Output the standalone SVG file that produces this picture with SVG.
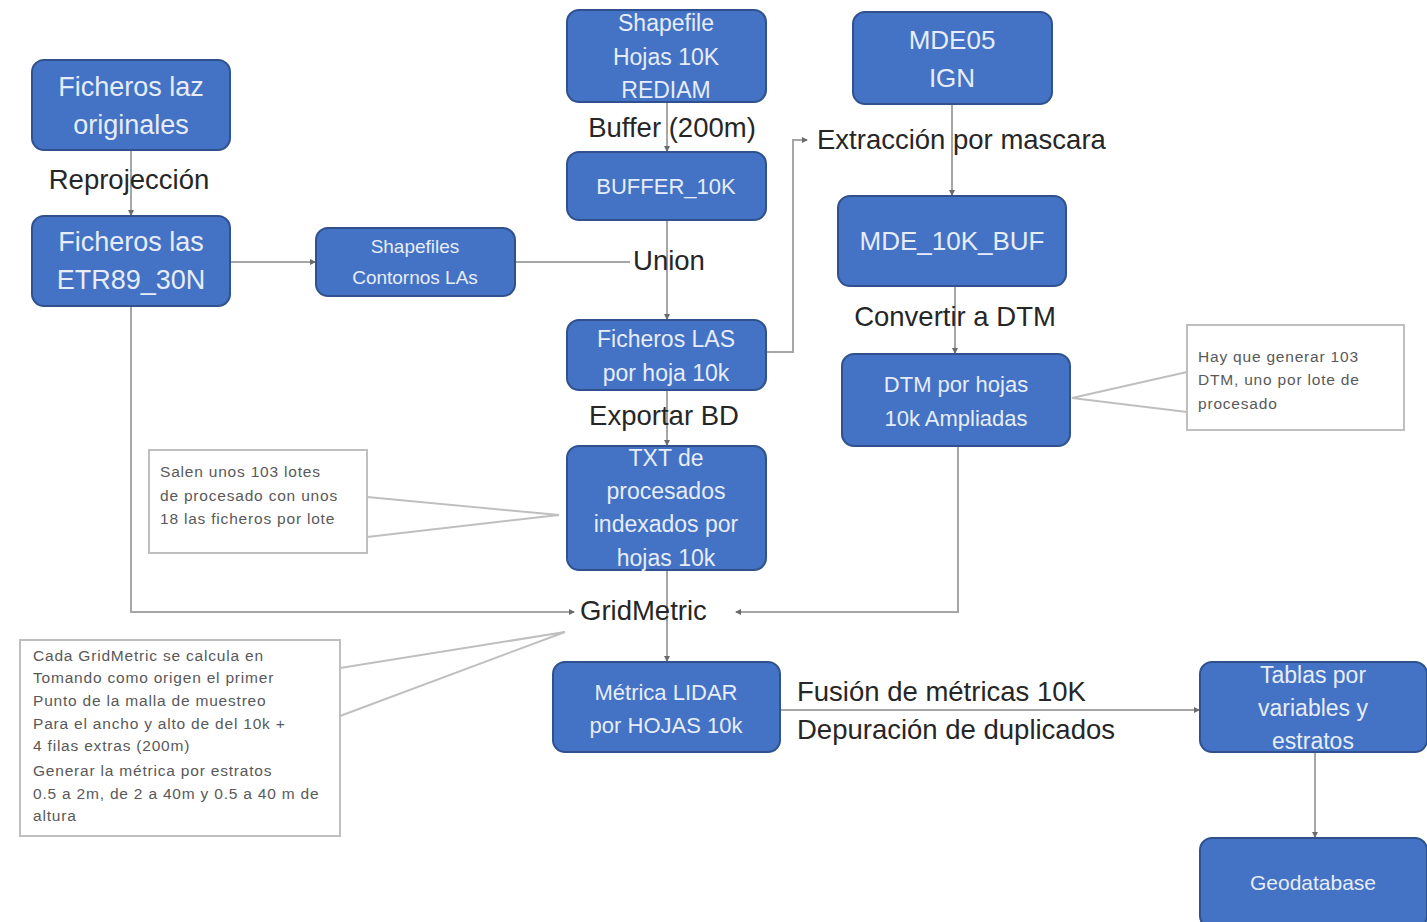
<svg xmlns="http://www.w3.org/2000/svg" width="1427" height="922" viewBox="0 0 1427 922">
<style>
.node rect{fill:#4472C4;stroke:#2F528F;stroke-width:2}
.node text{fill:#E6EDF9;font-family:"Liberation Sans",Arial,sans-serif;text-anchor:middle}
.lbl{fill:#262626;font-family:"Liberation Sans",Arial,sans-serif;font-size:27.5px}
.conn{fill:none;stroke:#A6A6A6;stroke-width:2}
.call rect{fill:#FFFFFF;stroke:#BFBFBF;stroke-width:2}
.call text{fill:#595959;font-family:"Liberation Sans",Arial,sans-serif;font-size:15.5px;letter-spacing:0.8px}
.wedge{fill:none;stroke:#BFBFBF;stroke-width:2}
</style>
<defs>
<marker id="arr" markerWidth="6" markerHeight="6" refX="5" refY="3" orient="auto" markerUnits="userSpaceOnUse">
<path d="M0,0 L6,3 L0,6 Z" fill="#6B6B6B"/>
</marker>
</defs>
<rect width="1427" height="922" fill="#FFFFFF"/>
<g id="connectors">
<path class="conn" d="M131,150 V215" marker-end="url(#arr)"/>
<path class="conn" d="M230,262 H315" marker-end="url(#arr)"/>
<path class="conn" d="M515,262 H630"/>
<path class="conn" d="M667,102 V151" marker-end="url(#arr)"/>
<path class="conn" d="M667,220 V319" marker-end="url(#arr)"/>
<path class="conn" d="M766,352 H793 V140 H807" marker-end="url(#arr)"/>
<path class="conn" d="M952,104 V195" marker-end="url(#arr)"/>
<path class="conn" d="M955,286 V353" marker-end="url(#arr)"/>
<path class="conn" d="M667,390 V445" marker-end="url(#arr)"/>
<path class="conn" d="M131,306 V612 H574" marker-end="url(#arr)"/>
<path class="conn" d="M958,446 V612 H736" marker-end="url(#arr)"/>
<path class="conn" d="M667,570 V661" marker-end="url(#arr)"/>
<path class="conn" d="M780,710 H1199" marker-end="url(#arr)"/>
<path class="conn" d="M1315,752 V837" marker-end="url(#arr)"/>
</g>
<g id="edge-labels">
<text class="lbl" x="129" y="189" text-anchor="middle">Reprojección</text>
<text class="lbl" x="672" y="137" text-anchor="middle">Buffer (200m)</text>
<text class="lbl" x="817" y="149">Extracción por mascara</text>
<text class="lbl" x="669" y="270" text-anchor="middle">Union</text>
<text class="lbl" x="955" y="326" text-anchor="middle">Convertir a DTM</text>
<text class="lbl" x="664" y="425" text-anchor="middle">Exportar BD</text>
<text class="lbl" x="580" y="620">GridMetric</text>
<text class="lbl" x="797" y="701">Fusión de métricas 10K</text>
<text class="lbl" x="797" y="739">Depuración de duplicados</text>
</g>
<g id="n-laz" class="node"><rect x="32" y="60" width="198" height="90" rx="12"/>
<text font-size="27" x="131" y="96">Ficheros laz</text><text font-size="27" x="131" y="134">originales</text></g>
<g id="n-las" class="node"><rect x="32" y="216" width="198" height="90" rx="12"/>
<text font-size="27" x="131" y="251">Ficheros las</text><text font-size="27" x="131" y="289">ETR89_30N</text></g>
<g id="n-contornos" class="node"><rect x="316" y="228" width="199" height="68" rx="12"/>
<text font-size="19" x="415" y="253">Shapefiles</text><text font-size="19" x="415" y="284">Contornos LAs</text></g>
<g id="n-shapefile" class="node"><rect x="567" y="10" width="199" height="92" rx="12"/>
<text font-size="23" x="666" y="31">Shapefile</text><text font-size="23" x="666" y="65">Hojas 10K</text><text font-size="23" x="666" y="98">REDIAM</text></g>
<g id="n-buffer" class="node"><rect x="567" y="152" width="199" height="68" rx="12"/>
<text font-size="22" x="666" y="194">BUFFER_10K</text></g>
<g id="n-lashoja" class="node"><rect x="567" y="320" width="199" height="70" rx="12"/>
<text font-size="23" x="666" y="347">Ficheros LAS</text><text font-size="23" x="666" y="381">por hoja 10k</text></g>
<g id="n-txt" class="node"><rect x="567" y="446" width="199" height="124" rx="12"/>
<text font-size="23" x="666" y="466">TXT de</text><text font-size="23" x="666" y="499">procesados</text><text font-size="23" x="666" y="532">indexados por</text><text font-size="23" x="666" y="566">hojas 10k</text></g>
<g id="n-mde05" class="node"><rect x="853" y="12" width="199" height="92" rx="12"/>
<text font-size="26" x="952" y="49">MDE05</text><text font-size="26" x="952" y="87">IGN</text></g>
<g id="n-mdebuf" class="node"><rect x="838" y="196" width="228" height="90" rx="12"/>
<text font-size="26" x="952" y="250">MDE_10K_BUF</text></g>
<g id="n-dtm" class="node"><rect x="842" y="354" width="228" height="92" rx="12"/>
<text font-size="22" x="956" y="392">DTM por hojas</text><text font-size="22" x="956" y="426">10k Ampliadas</text></g>
<g id="n-metrica" class="node"><rect x="553" y="662" width="227" height="90" rx="12"/>
<text font-size="22" x="666" y="700">Métrica LIDAR</text><text font-size="22" x="666" y="733">por HOJAS 10k</text></g>
<g id="n-tablas" class="node"><rect x="1200" y="662" width="227" height="90" rx="12"/>
<text font-size="23" x="1313" y="683">Tablas por</text><text font-size="23" x="1313" y="716">variables y</text><text font-size="23" x="1313" y="749">estratos</text></g>
<g id="n-geodb" class="node"><rect x="1200" y="838" width="227" height="90" rx="12"/>
<text font-size="21" x="1313" y="890">Geodatabase</text></g>
<g id="callout-lotes" class="call">
<path class="wedge" d="M367,497 L559,515 L367,537"/>
<rect x="149" y="450" width="218" height="103"/>
<text x="160" y="477">Salen unos 103 lotes</text>
<text x="160" y="501">de procesado con unos</text>
<text x="160" y="524">18 las ficheros por lote</text>
</g>
<g id="callout-dtm" class="call">
<path class="wedge" d="M1187,372 L1072,398 L1187,412"/>
<rect x="1187" y="325" width="217" height="105"/>
<text x="1198" y="362">Hay que generar 103</text>
<text x="1198" y="385">DTM, uno por lote de</text>
<text x="1198" y="409">procesado</text>
</g>
<g id="callout-gridmetric" class="call">
<path class="wedge" d="M340,668 L565,632 L340,716"/>
<rect x="20" y="640" width="320" height="196"/>
<text x="33" y="661">Cada GridMetric se calcula en</text>
<text x="33" y="683">Tomando como origen el primer</text>
<text x="33" y="706">Punto de la malla de muestreo</text>
<text x="33" y="729">Para el ancho y alto de del 10k +</text>
<text x="33" y="751">4 filas extras (200m)</text>
<text x="33" y="776">Generar la métrica por estratos</text>
<text x="33" y="799">0.5 a 2m, de 2  a 40m y 0.5 a 40 m de</text>
<text x="33" y="821">altura</text>
</g>
</svg>
